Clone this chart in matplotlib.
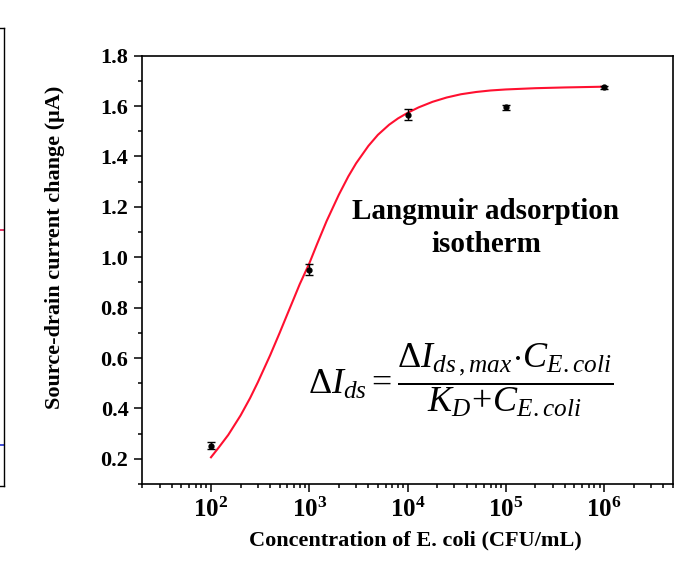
# Langmuir adsorption isotherm: source-drain current change vs E. coli concentration

import matplotlib.pyplot as plt
from matplotlib.ticker import FixedLocator, LogLocator, NullFormatter, MultipleLocator

plt.rcParams['font.family'] = 'Liberation Serif'
plt.rcParams['mathtext.fontset'] = 'custom'
plt.rcParams['mathtext.rm'] = 'Liberation Serif'
plt.rcParams['mathtext.it'] = 'Liberation Serif:italic'
plt.rcParams['mathtext.bf'] = 'Liberation Serif:bold'

#%% data

# measured points (CFU/mL, uA)
conc = [1e2, 1e3, 1e4, 1e5, 1e6]
delta_i = [0.252, 0.950, 1.565, 1.595, 1.674]
delta_i_err = [0.014, 0.022, 0.022, 0.010, 0.006]

# fitted isotherm
fit_conc = [100, 120, 150, 200, 250, 300, 400, 500, 600, 700, 800, 1000,
            1200, 1500, 2000, 2500, 3000, 4000, 5000, 6500, 8000, 10000,
            13000, 18000, 25000, 35000, 50000, 70000, 100000, 200000,
            400000, 1000000]
fit_delta_i = [0.206, 0.245, 0.295, 0.372, 0.441, 0.504, 0.611, 0.700, 0.775,
               0.838, 0.893, 0.975, 1.052, 1.143, 1.248, 1.321, 1.373, 1.442,
               1.486, 1.526, 1.551, 1.573, 1.595, 1.617, 1.634, 1.647, 1.656,
               1.662, 1.666, 1.671, 1.674, 1.677]

y_ticks = [0.2, 0.4, 0.6, 0.8, 1.0, 1.2, 1.4, 1.6, 1.8]
x_tick_labels = [r'$\mathbf{10^{2}}$', r'$\mathbf{10^{3}}$', r'$\mathbf{10^{4}}$',
                 r'$\mathbf{10^{5}}$', r'$\mathbf{10^{6}}$']

# fragments of the neighbouring panel on the left (axes fraction)
left_red_y = [0.56]
left_blue_y = [0.09]

#%% figure

fig = plt.figure(figsize=(6.88, 5.71), dpi=100)

# piece of the panel that is cut off at the left edge
ax0 = fig.add_axes([-0.1, 1 - 486 / 571, 0.1 + 4 / 688, (486 - 28) / 571])
ax0.set_xticks([])
ax0.set_yticks([])
for s in ax0.spines.values():
    s.set_linewidth(1.0)
for yy in left_red_y:
    ax0.axhline(yy, color='#e0104a', lw=1.2)
for yy in left_blue_y:
    ax0.axhline(yy, color='#2030d0', lw=1.2)

ax = fig.add_axes([142.3 / 688, 1 - 484 / 571, (672.7 - 142.3) / 688, (484 - 55.7) / 571])

ax.plot(fit_conc, fit_delta_i, color='#ff1030', lw=1.5, zorder=2)
ax.errorbar(conc, delta_i, yerr=delta_i_err, fmt='o', ms=3.5, color='black',
            ecolor='black', elinewidth=1, capsize=3, capthick=1, zorder=3)

ax.set_xscale('log')
ax.set_xlim(20, 5e6)
ax.set_ylim(0.1, 1.8)

ax.xaxis.set_major_locator(FixedLocator(conc))
ax.set_xticklabels(x_tick_labels, fontsize=18)
ax.xaxis.set_minor_locator(LogLocator(base=10, subs=range(2, 10), numticks=20))
ax.xaxis.set_minor_formatter(NullFormatter())

ax.set_yticks(y_ticks)
ax.set_yticklabels(['%.1f' % v for v in y_ticks], fontsize=16, fontweight='bold')
ax.yaxis.set_minor_locator(MultipleLocator(0.1))

ax.tick_params(which='both', direction='out', top=False, right=False, width=1.1)
ax.tick_params(which='major', length=6, pad=4)
ax.tick_params(which='minor', length=3)
for s in ax.spines.values():
    s.set_linewidth(1.2)

ax.set_xlabel('Concentration of E. coli (CFU/mL)', fontsize=16, fontweight='bold')
ax.xaxis.set_label_coords(0.514, -0.108)
ax.set_ylabel('Source-drain current change (\u03bcA)', fontsize=16, fontweight='bold')
ax.yaxis.set_label_coords(-0.145, 0.553)

ax.text(0.648, 0.598, 'Langmuir adsorption\nisotherm', transform=ax.transAxes,
        ha='center', va='center', fontsize=21, fontweight='bold', linespacing=1.25)

ax.text(0.601, 0.243,
        r'$\Delta I_{ds} = \dfrac{\Delta I_{ds\,,max}\!\cdot\! C_{E{.}coli}}'
        r'{K_D\!+\!C_{E{.}coli}}$',
        transform=ax.transAxes, ha='center', va='center', fontsize=26)

plt.savefig('out.png', dpi=100)
